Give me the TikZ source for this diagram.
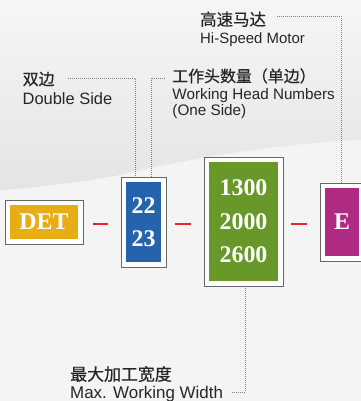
\documentclass[tikz,border=0pt]{standalone}
\usepackage{fontspec}
\setmainfont{Liberation Sans}
\newfontfamily\cjk[FakeBold=0.6]{Noto Sans CJK SC}
\newfontfamily\numfont{Liberation Serif}
\usetikzlibrary{calc}
\definecolor{bgc}{HTML}{F4F4F4}
\definecolor{bandc}{HTML}{E4E4E4}
\definecolor{topc}{HTML}{F6F6F6}
\definecolor{detY}{HTML}{E8AC16}
\definecolor{blueB}{HTML}{2563AC}
\definecolor{greenG}{HTML}{679829}
\definecolor{magM}{HTML}{AF2B83}
\definecolor{redD}{HTML}{E3242B}
\definecolor{dotc}{HTML}{808080}
\definecolor{borderc}{HTML}{666666}
\begin{document}
\begin{tikzpicture}[x=1bp,y=-1bp,
  outerbox/.style={draw=borderc, fill=white, line width=0.9bp, inner sep=0},
  inbox/.style={inner sep=0, text=white, align=center,
    font=\numfont\bfseries\fontsize{24}{33.5}\selectfont},
  cn/.style={anchor=base west, inner sep=0, text=black!85},
  en/.style={anchor=base west, inner sep=0, text=black!85},
  dots/.style={draw=dotc, line width=0.9bp, dash pattern=on 1bp off 1bp},
  reddash/.style={draw=redD, line width=2bp}]
\useasboundingbox (0,0) rectangle (361,401);
% background
\fill[bgc] (0,0) rectangle (361,401);
\shade[top color=topc, bottom color=bandc]
  (0,0) -- (361,0) -- (361,140) .. controls (300,142) and (200,155) .. (120,175)
  .. controls (70,184) and (30,188) .. (0,190) -- cycle;
% boxes
\node[outerbox, minimum width=78bp, minimum height=44bp] (detO) at (44,222) {};
\node[inbox, fill=detY, minimum width=68bp, minimum height=34bp] (det) at (detO.center) {DET};
\node[outerbox, minimum width=45bp, minimum height=90bp] (blueO) at (143.5,222) {};
\node[inbox, fill=blueB, minimum width=35bp, minimum height=80bp] (blue) at (blueO.center) {22\\23};
\node[outerbox, minimum width=79bp, minimum height=129bp] (greenO) at (243.5,221.5) {};
\node[inbox, fill=greenG, minimum width=69bp, minimum height=119bp] (green) at (greenO.center) {1300\\2000\\2600};
\node[outerbox, minimum width=44bp, minimum height=78bp] (eO) at (342,222) {};
\node[inbox, fill=magM, minimum width=34bp, minimum height=68bp] (e) at (eO.center) {E};
% red dashes
\draw[reddash] ($(detO.east)+(10,2)$) -- ++(15,0);
\draw[reddash] ($(blueO.east)+(9,2)$) -- ++(16,0);
\draw[reddash] ($(greenO.east)+(8,2.5)$) -- ++(16,0);
% labels
\node[cn, font=\cjk\fontsize{16.5}{17}\selectfont] (hsCN) at (200,25.5) {高速马达};
\node[en, font=\fontsize{15}{17}\selectfont] (hsEN) at (200,43.3) {Hi-Speed Motor};
\node[cn, font=\cjk\fontsize{16}{17}\selectfont] (dsCN) at (22.5,85) {双边};
\node[en, font=\fontsize{16.5}{17}\selectfont] (dsEN) at (22.5,104) {Double Side};
\node[cn, font=\cjk\fontsize{16}{17}\selectfont] (whCN) at (172,82) {工作头数量（单边）};
\node[en, font=\fontsize{15.3}{16.5}\selectfont] (whEN) at (172.3,99.3) {Working Head Numbers};
\node[en, font=\fontsize{15.3}{16.5}\selectfont] (whEN2) at (172.3,115.5) {(One Side)};
\node[cn, font=\cjk\fontsize{17}{17}\selectfont] (mwCN) at (70,380.5) {最大加工宽度};
\node[en, font=\fontsize{17}{17}\selectfont] (mwEN) at (70,398.5) {Max. Working Width};
% leader coordinates
\coordinate (hsStart) at (277,16);
\coordinate (dsStart) at (68,78);
\coordinate (whStart) at (165,78);
\coordinate (mwEnd) at (231,392);
\coordinate (dsEnd) at ([xshift=-8.5bp]blueO.north);
\coordinate (whEnd) at ([xshift=7.5bp]blueO.north);
\coordinate (hsEnd) at ([xshift=-1bp]eO.north);
\coordinate (mwTop) at ([xshift=1.5bp]greenO.south);
% dotted leaders
\draw[dots] (hsStart) -| (hsEnd);
\draw[dots] (dsStart) -| (dsEnd);
\draw[dots] (whStart) -| (whEnd);
\draw[dots] (mwTop) |- (mwEnd);
\end{tikzpicture}
\end{document}
